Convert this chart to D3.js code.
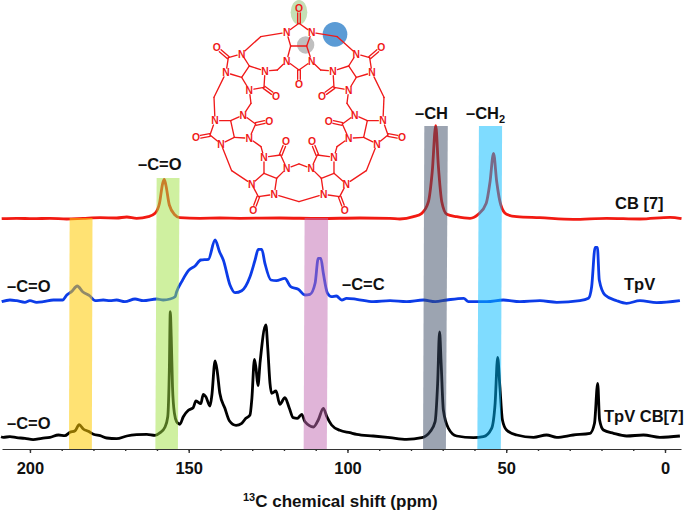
<!DOCTYPE html>
<html>
<head>
<meta charset="utf-8">
<script src="https://d3js.org/d3.v7.min.js"></script>
<style>
  html, body { margin: 0; background: #fff; }
  svg { display: block; }
  text { font-family: "Liberation Sans", Arial, sans-serif; }
</style>
</head>
<body>
<svg id="chart" width="685" height="512"></svg>
<script>
// spectra as [ppm, stacked intensity]
const cb7 = [[208.9,230.3],[204.2,230.7],[199,230.3],[193.7,230.7],[188.4,230],[183.2,230.7],[177.9,231.3],[172.7,231],[169.5,232],[166.4,230.7],[162.7,232.3],[160.6,235.7],[159.2,245.7],[158.2,265.7],[157.7,269.7],[157.2,264],[156.1,244],[154.3,234],[152.8,231.3],[146.5,230.7],[140.2,231],[133.9,230.7],[121.3,231],[108.7,230.5],[96.1,231],[86.6,230.7],[83.5,230],[79.2,232.3],[76.6,235.7],[74.5,247.3],[73.3,277.3],[72.2,323.3],[71.4,284],[70.3,247.3],[68.7,234.7],[65.6,232.3],[61.4,230.7],[58.8,234.7],[56.3,245.7],[55.1,267.3],[54,295.7],[53,267.3],[51.7,244],[49.9,234.7],[46.7,232.3],[39.4,231.3],[28.9,229.7],[18.4,230.7],[7.9,230],[-1.6,231.7],[-5.2,230.3]];

const tpv = [[208.9,147.3],[206.3,149],[204.2,148.3],[201.6,146.7],[200,148.3],[197.9,146.7],[195.8,147.3],[192.6,149],[189.7,149],[188.4,154],[186.9,157.3],[185.1,163],[183.4,157.3],[181.1,153],[179.5,148.3],[176.9,149],[174.8,148.3],[172.7,149],[170.1,147.3],[166.9,150],[164.3,148.3],[160.1,150],[158,149],[155.9,150],[154.3,152.3],[153.8,157.3],[152.2,167.3],[150.1,178.3],[148,183],[146.2,189],[143.8,189.7],[141.7,209],[140.3,197.3],[139.1,189],[137,164],[135.4,156.3],[133.3,158.3],[130.7,172.3],[129.1,189],[128.1,199.7],[127,199.7],[126,185.7],[124.1,169],[122.4,168.3],[119.7,170.7],[117.9,162.3],[115.5,159.7],[113.4,154],[111.8,154.7],[110.2,165.7],[109.2,190.7],[108.4,190.7],[107.6,175.7],[106.3,155.7],[105,152.3],[103.5,153],[101.8,149],[100.3,150.7],[97.1,149.7],[91.9,147.3],[86.6,148.3],[81.4,147.3],[76.1,149],[72.4,147.3],[68.7,149],[63.4,150.7],[61.9,147.3],[56.1,147.3],[50.9,149],[45.7,147.3],[39.4,148.3],[34.1,146.7],[26.8,148.3],[24.1,150.7],[23.1,162.3],[22,201.7],[21.3,201.7],[20.7,169],[18.9,154],[15.2,148.3],[12.1,145.7],[7.9,148.3],[2.6,146.3],[-4.7,148.3]];

const tpvCb7 = [[209.1,12.3],[208.4,11.7],[206.3,12.3],[204.2,11.3],[201.6,10.7],[199,9.3],[196.3,10.7],[193.7,11.7],[191,14],[189,13.3],[187.4,16.7],[185.8,18.3],[184.5,24.3],[183.2,20],[181.6,17.7],[180,14.7],[177.9,13.3],[175.8,11],[172.7,10.3],[169.5,13],[166.4,14.3],[163.2,14.7],[160.6,13.7],[159,16.3],[157.5,21.7],[156.6,32.3],[156.1,79],[155.8,137.3],[155.5,112],[155.1,62],[154.5,35.7],[153.8,27.3],[153,25],[152.8,24.7],[151.7,32.3],[150.1,38.7],[148.6,41.3],[147.7,48],[146.2,45.3],[145.4,54.7],[144.6,52.3],[143.3,43],[142.7,54],[141.7,88],[141,77.3],[140.2,55.7],[138.6,40.7],[137.2,28.3],[135.1,23.7],[133.3,25.7],[132,30.7],[130.7,34],[130.1,50.7],[129.3,89.7],[128.8,80.7],[128.2,63.3],[127.5,87.3],[125.7,124],[125.1,100.7],[124.4,65.7],[123.9,55.7],[122.5,58],[121.3,44.7],[119.7,51.3],[118.3,40.7],[117.1,31.3],[115.8,30.7],[114.4,34.7],[113.4,27.3],[110.7,22],[109.2,29],[107.6,40.7],[106.5,32.3],[105,24],[102.4,18.7],[99.2,16.3],[97.1,14.7],[91.9,13],[86.6,11.3],[81.4,9.7],[76.6,11.3],[74,17.3],[72.4,27.3],[71.6,65.7],[71,117],[70.5,85.7],[69.8,39],[68.2,20.7],[65.6,13],[60.3,11.3],[57.2,12.3],[54.6,20.7],[53.5,45.7],[52.7,91.7],[52,62.3],[51.2,29],[49.9,19],[46.7,14],[41.4,11.7],[37.3,14],[34.1,11.7],[28.9,14],[23.6,15.7],[22.2,25.7],[21.2,65.7],[20.6,29],[19.4,19],[16.2,15.7],[12.1,13],[6.8,14],[1.6,11.7],[-4.7,13]];

// highlight bands: ppm edges at top and bottom (the strips lean slightly), top intensity
const bandTopPpm = [[187.5,180.3],[160.1,152.9],[113.5,106.1],[75.8,68.4],[58.6,51.3]];
const bandBottomPpm = [[187.7,180.5],[160.5,153.4],[113.8,106.5],[76.2,69],[59.1,51.7]];
const bandTop = [231,271,231,323,323];
const bandColors = ["#ffcb00","#9fe141","#c169b1","#3a4964","#00b9ff"];
const bandOpacity = [0.55,0.5,0.5,0.5,0.5];

const majorTicks = [200,150,100,50,0];
const minorTicks = d3.range(0,201,10);

const svg = d3.select("#chart");

const x = d3.scaleLinear().domain([208.8,-5.04]).range([2,681]);
const y = d3.scaleLinear().domain([0,449]).range([449,0]);

/**
 * CB[7] ring, in its own drawing units. Left half is listed, right half is mirrored.
 */
function drawMolecule() {
  const units = [
    // n1, n2, c1, o1, n3, n4, c2, o2, ch1, ch2
    {n1:[155,162],n2:[108,218],c1:[115,173],o1:[80,143],n3:[225,213],n4:[178,270],c2:[222,262],o2:[258,288],h1:[178,198],h2:[155,232]},
    {n1:[160,345],n2:[178,415],c1:[197,372],o1:[238,363],n3:[75,362],n4:[93,432],c2:[60,405],o2:[18,413],h1:[122,362],h2:[133,412]},
    {n1:[222,472],n2:[290,505],c1:[272,465],o1:[288,425],n3:[185,552],n4:[253,583],c2:[205,590],o2:[190,630],h1:[222,520],h2:[260,535]}
  ];
  const top = {n1:[290,97],n2:[365,97],c1:[327,70],o1:[327,25],n3:[290,183],n4:[365,183],c2:[327,210],o2:[327,252],h1:[302,138],h2:[350,138]};
  const bridges = [
    [[290,97],[212,110],[155,162]],
    [[290,183],[262,210],[225,213]],
    [[108,218],[72,292],[75,362]],
    [[178,270],[183,310],[160,345]],
    [[93,432],[125,512],[185,552]],
    [[178,415],[213,440],[222,472]]
  ];
  const flip = p => [654 - p[0], p[1]];
  const flipUnit = u => Object.fromEntries(Object.entries(u).map(([k,v]) => [k, flip(v)]));

  const allUnits = [top, ...units, ...units.map(flipUnit)];
  const allBridges = [...bridges, ...bridges.map(b => b.map(flip)),
    [[290,505],[327,492],[364,505]],
    [[253,583],[327,605],[401,583]]];

  const mol = svg.append("g").attr("transform","translate(190,0) scale(0.3333)");

  mol.append("ellipse").attr("cx",327).attr("cy",37).attr("rx",25).attr("ry",37).attr("fill","#c5dfb5");
  mol.append("circle").attr("cx",435).attr("cy",103).attr("r",37).attr("fill","#5b9bd5");
  mol.append("circle").attr("cx",347).attr("cy",135).attr("r",26).attr("fill","#bfbfbf");

  // pull a bond end back from a labelled atom
  const shorten = (a, b, gap) => {
    const d = Math.hypot(b[0]-a[0], b[1]-a[1]);
    return [a[0] + (b[0]-a[0])*gap/d, a[1] + (b[1]-a[1])*gap/d];
  };
  const bonds = [];
  const bond = (a, b, ga, gb) => bonds.push([shorten(a,b,ga), shorten(b,a,gb)]);

  const atoms = [];
  allUnits.forEach(u => {
    bond(u.n1,u.c1,14,0); bond(u.n2,u.c1,14,0);
    bond(u.n3,u.c2,14,0); bond(u.n4,u.c2,14,0);
    bond(u.n1,u.h1,14,0); bond(u.n2,u.h2,14,0);
    bond(u.n3,u.h1,14,0); bond(u.n4,u.h2,14,0);
    bond(u.h1,u.h2,0,0);
    [[u.c1,u.o1],[u.c2,u.o2]].forEach(([c,o]) => {
      const d = Math.hypot(o[0]-c[0], o[1]-c[1]);
      const nx = -(o[1]-c[1])/d*4, ny = (o[0]-c[0])/d*4;
      const end = shorten(o,c,14);
      bonds.push([[c[0]+nx,c[1]+ny],[end[0]+nx,end[1]+ny]]);
      bonds.push([[c[0]-nx,c[1]-ny],[end[0]-nx,end[1]-ny]]);
    });
    [u.n1,u.n2,u.n3,u.n4].forEach(p => atoms.push(["N",p]));
    [u.o1,u.o2].forEach(p => atoms.push(["O",p]));
  });
  allBridges.forEach(b => { bond(b[0],b[1],14,0); bond(b[2],b[1],14,0); });

  mol.selectAll("line").data(bonds).join("line")
    .attr("x1",d => d[0][0]).attr("y1",d => d[0][1])
    .attr("x2",d => d[1][0]).attr("y2",d => d[1][1])
    .attr("stroke","#f01a1a").attr("stroke-width",4).attr("stroke-linecap","round");

  mol.selectAll("text").data(atoms).join("text")
    .attr("x",d => d[1][0]).attr("y",d => d[1][1] + 11)
    .attr("text-anchor","middle")
    .attr("font-size",31).attr("font-weight",700)
    .attr("fill","#f01a1a")
    .text(d => d[0]);
}

drawMolecule();

// spectra go under the bands, the bands tint them
const line = d3.line().x(d => x(d[0])).y(d => y(d[1])).curve(d3.curveMonotoneX);

svg.selectAll("path.spectrum").data([
  [cb7,"#f21a12"],
  [tpv,"#0c3ce8"],
  [tpvCb7,"#000000"]
]).join("path")
  .attr("class","spectrum")
  .attr("d",d => line(d[0]))
  .attr("fill","none")
  .attr("stroke",d => d[1])
  .attr("stroke-width",2.8)
  .attr("stroke-linejoin","round");

svg.selectAll("path.band").data(bandColors).join("path")
  .attr("class","band")
  .attr("d",(c,i) => d3.line()([
    [x(bandTopPpm[i][0]),y(bandTop[i])],
    [x(bandTopPpm[i][1]),y(bandTop[i])],
    [x(bandBottomPpm[i][1]),y(0)],
    [x(bandBottomPpm[i][0]),y(0)]
  ]) + "Z")
  .attr("fill",c => c)
  .attr("fill-opacity",(c,i) => bandOpacity[i]);

// axis: labelled every 50, small ticks every 10
const axisMinor = d3.axisBottom(x).tickValues(minorTicks).tickSize(2).tickSizeOuter(0).tickFormat("");
const axisMajor = d3.axisBottom(x).tickValues(majorTicks).tickSize(4).tickSizeOuter(0).tickPadding(9);

const gMinor = svg.append("g").attr("transform",`translate(0,${y(0)})`).call(axisMinor);
const gMajor = svg.append("g").attr("transform",`translate(0,${y(0)})`).call(axisMajor);
gMajor.select(".domain").remove();
gMinor.select(".domain").attr("stroke","#333").attr("stroke-width",1.2);
gMinor.selectAll("line").attr("stroke","#333").attr("stroke-width",1.4);
gMajor.selectAll("line").attr("stroke","#333").attr("stroke-width",1.4);
gMajor.selectAll("text")
  .attr("font-family",'"Liberation Sans", Arial, sans-serif')
  .attr("font-size",16.5).attr("font-weight",700).attr("fill","#111");

// labels
const labels = [
  ["CB [7]",615,209],
  ["TpV",624,290],
  ["TpV CB[7]",604,422],
  ["–C=O",7,292],
  ["–C=O",7,429],
  ["–C=C",342,290],
  ["–C=O",138,170],
  ["–CH",415,119]
];
svg.selectAll("text.label").data(labels).join("text")
  .attr("class","label")
  .attr("x",d => d[1]).attr("y",d => d[2])
  .attr("font-size",16.5).attr("font-weight",700).attr("fill","#111")
  .text(d => d[0]);

const ch2 = svg.append("text").attr("x",466).attr("y",119)
  .attr("font-size",16.5).attr("font-weight",700).attr("fill","#111");
ch2.append("tspan").text("–CH");
ch2.append("tspan").attr("dy",4).attr("font-size",11).text("2");

const title = svg.append("text").attr("x",243).attr("y",507)
  .attr("font-size",17).attr("font-weight",700).attr("fill","#111");
title.append("tspan").attr("dy",-6).attr("font-size",11).text("13");
title.append("tspan").attr("dy",6).text("C chemical shift (ppm)");
</script>
</body>
</html>
